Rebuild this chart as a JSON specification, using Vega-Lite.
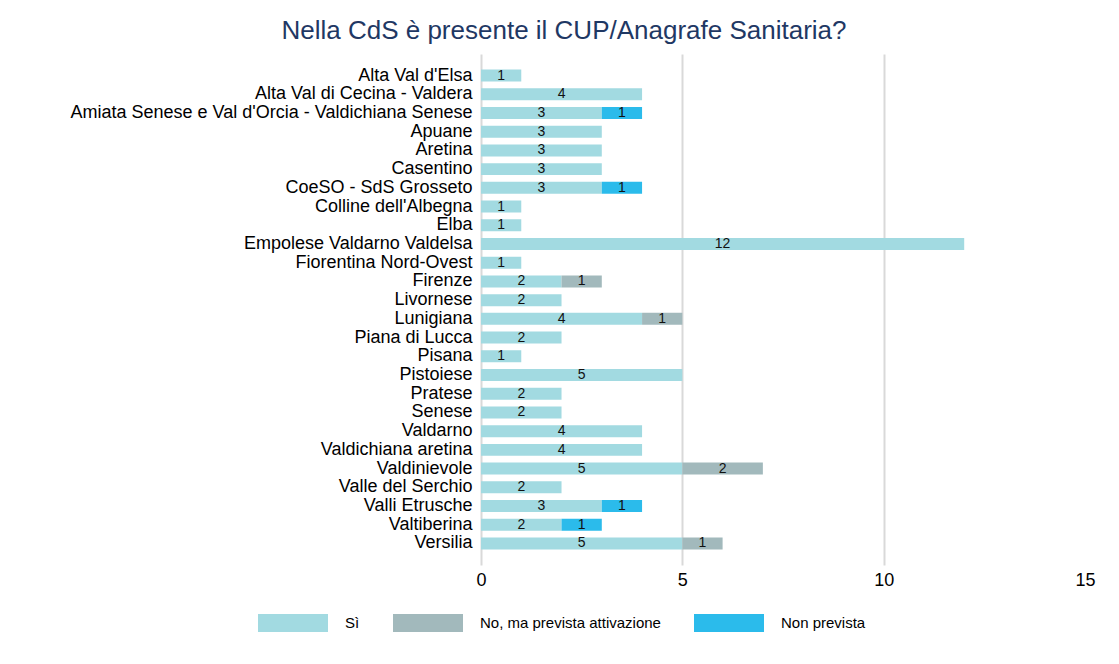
{
  "$schema": "https://vega.github.io/schema/vega-lite/v6.json",
  "width": 604,
  "height": 511,
  "autosize": {"type": "none"},
  "padding": {"left": 481, "top": 54, "right": 34, "bottom": 99},
  "background": "white",
  "config": {
    "font": "Liberation Sans",
    "view": {"stroke": null}
  },
  "title": {
    "text": "Nella CdS è presente il CUP/Anagrafe Sanitaria?",
    "fontSize": 26,
    "fontWeight": "normal",
    "color": "#1f3864",
    "anchor": "middle",
    "frame": "group",
    "dx": -219,
    "offset": 10
  },
  "data": {
    "values": [
      {"cds": "Alta Val d'Elsa", "risposta": "Sì", "ord": 1, "n": 1},
      {"cds": "Alta Val di Cecina - Valdera", "risposta": "Sì", "ord": 1, "n": 4},
      {"cds": "Amiata Senese e Val d'Orcia - Valdichiana Senese", "risposta": "Sì", "ord": 1, "n": 3},
      {"cds": "Amiata Senese e Val d'Orcia - Valdichiana Senese", "risposta": "Non prevista", "ord": 3, "n": 1},
      {"cds": "Apuane", "risposta": "Sì", "ord": 1, "n": 3},
      {"cds": "Aretina", "risposta": "Sì", "ord": 1, "n": 3},
      {"cds": "Casentino", "risposta": "Sì", "ord": 1, "n": 3},
      {"cds": "CoeSO - SdS Grosseto", "risposta": "Sì", "ord": 1, "n": 3},
      {"cds": "CoeSO - SdS Grosseto", "risposta": "Non prevista", "ord": 3, "n": 1},
      {"cds": "Colline dell'Albegna", "risposta": "Sì", "ord": 1, "n": 1},
      {"cds": "Elba", "risposta": "Sì", "ord": 1, "n": 1},
      {"cds": "Empolese Valdarno Valdelsa", "risposta": "Sì", "ord": 1, "n": 12},
      {"cds": "Fiorentina Nord-Ovest", "risposta": "Sì", "ord": 1, "n": 1},
      {"cds": "Firenze", "risposta": "Sì", "ord": 1, "n": 2},
      {"cds": "Firenze", "risposta": "No, ma prevista attivazione", "ord": 2, "n": 1},
      {"cds": "Livornese", "risposta": "Sì", "ord": 1, "n": 2},
      {"cds": "Lunigiana", "risposta": "Sì", "ord": 1, "n": 4},
      {"cds": "Lunigiana", "risposta": "No, ma prevista attivazione", "ord": 2, "n": 1},
      {"cds": "Piana di Lucca", "risposta": "Sì", "ord": 1, "n": 2},
      {"cds": "Pisana", "risposta": "Sì", "ord": 1, "n": 1},
      {"cds": "Pistoiese", "risposta": "Sì", "ord": 1, "n": 5},
      {"cds": "Pratese", "risposta": "Sì", "ord": 1, "n": 2},
      {"cds": "Senese", "risposta": "Sì", "ord": 1, "n": 2},
      {"cds": "Valdarno", "risposta": "Sì", "ord": 1, "n": 4},
      {"cds": "Valdichiana aretina", "risposta": "Sì", "ord": 1, "n": 4},
      {"cds": "Valdinievole", "risposta": "Sì", "ord": 1, "n": 5},
      {"cds": "Valdinievole", "risposta": "No, ma prevista attivazione", "ord": 2, "n": 2},
      {"cds": "Valle del Serchio", "risposta": "Sì", "ord": 1, "n": 2},
      {"cds": "Valli Etrusche", "risposta": "Sì", "ord": 1, "n": 3},
      {"cds": "Valli Etrusche", "risposta": "Non prevista", "ord": 3, "n": 1},
      {"cds": "Valtiberina", "risposta": "Sì", "ord": 1, "n": 2},
      {"cds": "Valtiberina", "risposta": "Non prevista", "ord": 3, "n": 1},
      {"cds": "Versilia", "risposta": "Sì", "ord": 1, "n": 5},
      {"cds": "Versilia", "risposta": "No, ma prevista attivazione", "ord": 2, "n": 1}
    ]
  },
  "encoding": {
    "y": {
      "field": "cds",
      "type": "nominal",
      "sort": null,
      "title": null,
      "scale": {"paddingInner": 0.36, "paddingOuter": 0.83},
      "axis": {
        "domain": false,
        "ticks": false,
        "labelFontSize": 18,
        "labelColor": "#000000",
        "labelPadding": 9,
        "labelLimit": 600,
        "grid": false
      }
    }
  },
  "layer": [
    {
      "mark": {"type": "bar"},
      "encoding": {
        "x": {
          "field": "n",
          "type": "quantitative",
          "stack": "zero",
          "title": null,
          "scale": {"domain": [0, 15], "nice": false},
          "axis": {
            "values": [0, 5, 10, 15],
            "domain": false,
            "ticks": false,
            "labelFlush": false,
            "labelFontSize": 18,
            "labelColor": "#000000",
            "labelPadding": 6,
            "gridColor": {"condition": {"test": "datum.value >= 15", "value": "transparent"}, "value": "#d9d9d9"},
            "gridWidth": 2
          }
        },
        "color": {
          "field": "risposta",
          "type": "nominal",
          "title": null,
          "sort": ["Sì", "No, ma prevista attivazione", "Non prevista"],
          "scale": {
            "domain": ["Sì", "No, ma prevista attivazione", "Non prevista"],
            "range": ["#a2dae1", "#a2b9bc", "#2bbbeb"]
          },
          "legend": {
            "orient": "none",
            "legendX": -223,
            "legendY": 534,
            "direction": "horizontal",
            "symbolType": "M-1,-0.257H1V0.257H-1Z",
            "symbolSize": 4900,
            "symbolStrokeWidth": 0,
            "labelFontSize": 15,
            "labelColor": "#000000",
            "labelOffset": 17,
            "labelLimit": 400,
            "columnPadding": 33
          }
        },
        "order": {"field": "ord", "type": "quantitative"}
      }
    },
    {
      "mark": {"type": "text", "fontSize": 14, "color": "#111111", "baseline": "middle"},
      "encoding": {
        "x": {"field": "n", "type": "quantitative", "stack": "zero", "bandPosition": 0.5},
        "order": {"field": "ord", "type": "quantitative"},
        "text": {"field": "n", "type": "quantitative"}
      }
    }
  ]
}
